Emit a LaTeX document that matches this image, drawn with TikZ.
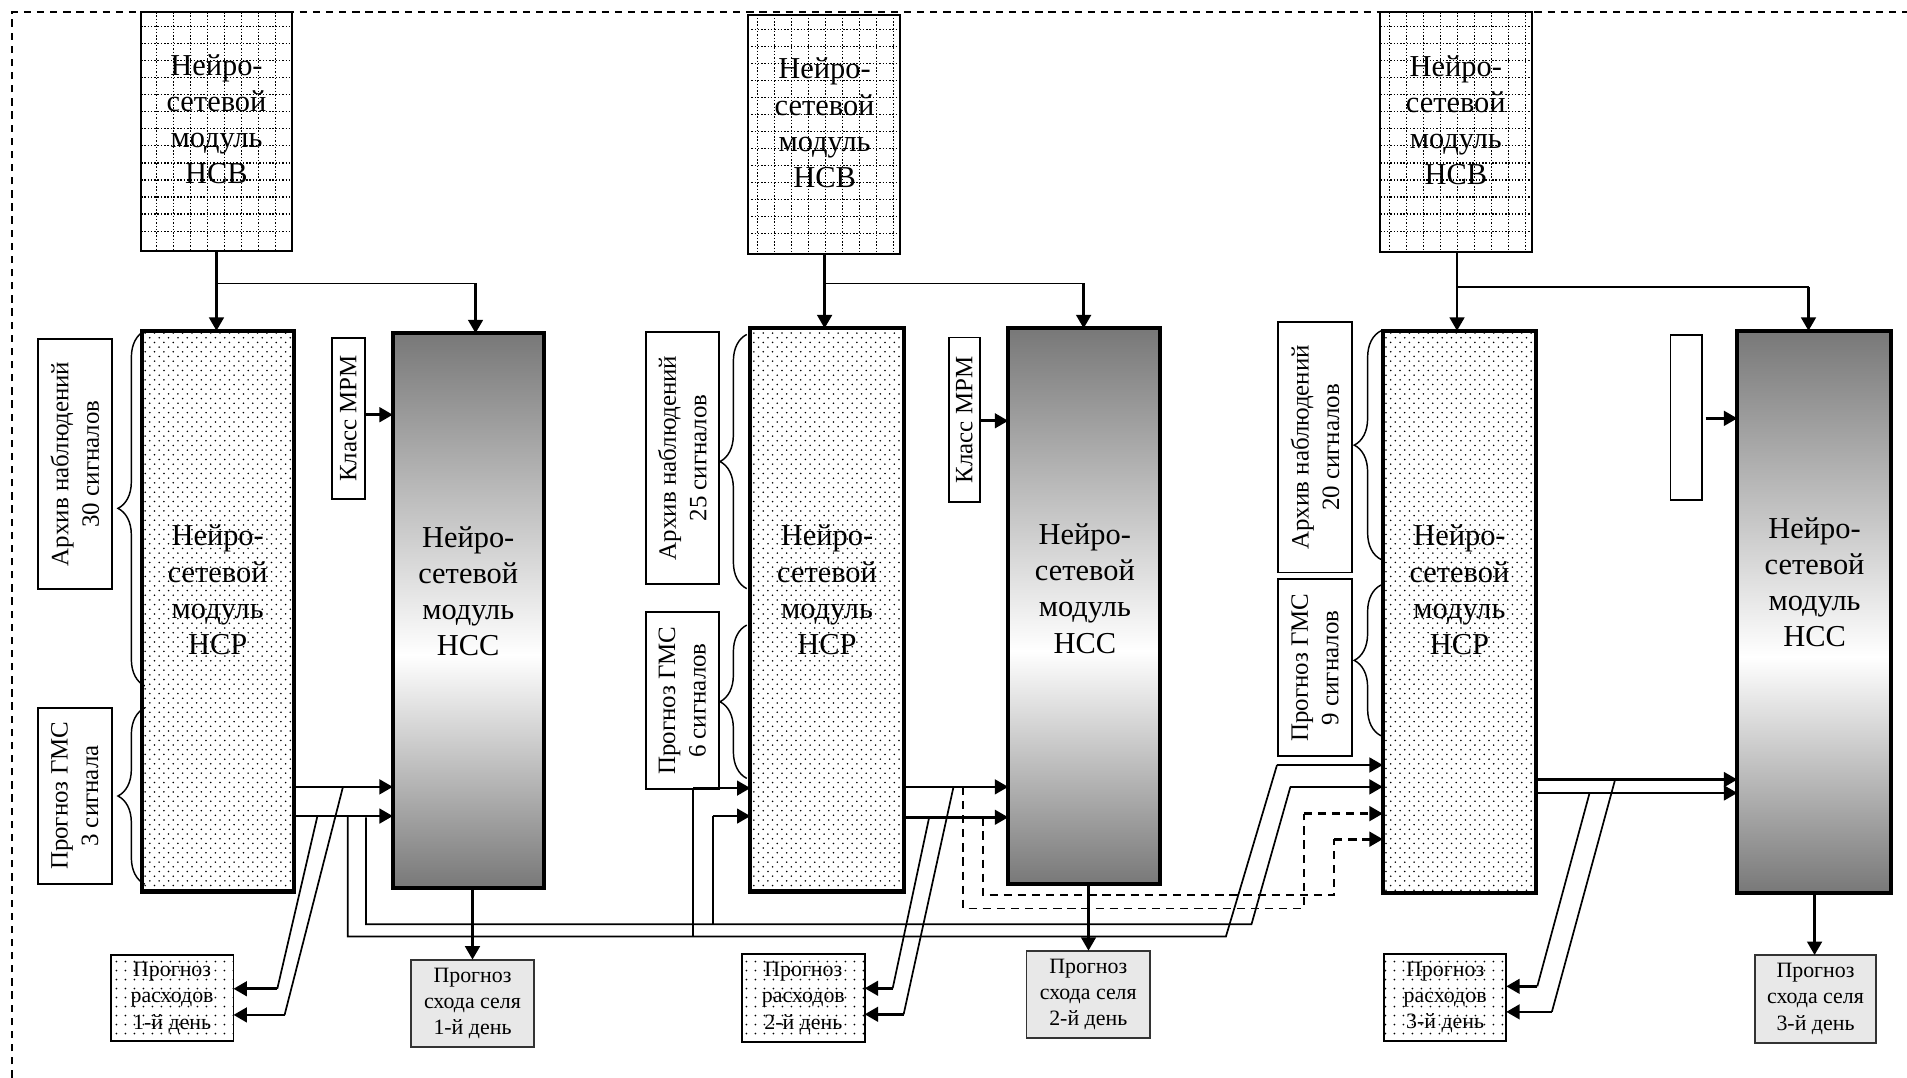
\documentclass[tikz,border=0pt]{standalone}
\usepackage{fontspec}
\setmainfont{Liberation Serif}
\usetikzlibrary{arrows.meta,patterns,decorations.pathreplacing,calc}

\definecolor{nssdark}{gray}{0.47}
\definecolor{selfill}{gray}{0.91}

\pgfdeclarepatternformonly{nsrdots}{\pgfqpoint{-0.4pt}{-0.4pt}}{\pgfqpoint{3.45pt}{3.45pt}}{\pgfqpoint{3.85pt}{3.85pt}}{%
  \pgfpathcircle{\pgfqpoint{0pt}{0pt}}{0.36pt}%
  \pgfpathcircle{\pgfqpoint{1.925pt}{1.925pt}}{0.36pt}%
  \pgfusepath{fill}}
\pgfdeclarepatternformonly{rasdots}{\pgfqpoint{-0.6pt}{-0.6pt}}{\pgfqpoint{3.1pt}{3.1pt}}{\pgfqpoint{3.7pt}{3.7pt}}{%
  \pgfpathcircle{\pgfqpoint{0pt}{0pt}}{0.4pt}\pgfusepath{fill}}
\pgfdeclareverticalshading{nssgrad}{100bp}{color(0bp)=(nssdark); color(25bp)=(nssdark); color(46bp)=(white); color(75bp)=(nssdark); color(100bp)=(nssdark)}

\newcommand\fBig{\fontsize{12.5}{14.85}\selectfont}
\newcommand\fRot{\fontsize{10.25}{12.5}\selectfont}
\newcommand\fSmall{\fontsize{9}{10.8}\selectfont}

\tikzset{
  frame/.style={line width=0.6pt, dash pattern=on 3pt off 2.4pt},
  thinbox/.style={draw, line width=0.75pt, inner sep=0pt, outer sep=0pt, fill=white},
  rotbox/.style={thinbox, rotate=90, align=center, font=\fRot},
  gridl/.style={line width=0.45pt, dash pattern=on 0.6pt off 0.75pt},
  nsvbox/.style={draw, line width=0.8pt, inner sep=0pt, outer sep=0pt, path picture={
     \foreach \k in {0,...,9} {\draw[gridl] ([xshift=#1+\k*7pt]path picture bounding box.north west) -- ([xshift=#1+\k*7pt]path picture bounding box.south west);}
     \foreach \k in {0,...,12} {\draw[gridl] ([yshift=-6pt-\k*7pt]path picture bounding box.north west) -- ([yshift=-6pt-\k*7pt]path picture bounding box.north east);}
  }},
  nsrbox/.style={draw, line width=1.7pt, inner sep=0pt, outer sep=0pt, pattern=nsrdots},
  nssbox/.style={draw, line width=1.7pt, inner sep=0pt, outer sep=0pt, shade, shading=nssgrad},
  bigtext/.style={align=center, font=\fBig, inner sep=0pt},
  rasbox/.style={draw, line width=0.8pt, inner sep=0pt, outer sep=0pt, pattern=rasdots, align=center, font=\fSmall},
  selbox/.style={draw=black!80, line width=0.8pt, inner sep=0pt, outer sep=0pt, fill=selfill, align=center, font=\fSmall},
  arr/.style={line width=1.1pt, -{Triangle[length=5.5pt,width=6pt]}},
  thinl/.style={line width=0.7pt},
  dashl/.style={line width=0.7pt, dash pattern=on 3.4pt off 2.4pt},
  darr/.style={arr, dash pattern=on 3.4pt off 2.4pt},
  brc/.style={line width=0.6pt, decorate, decoration={brace, amplitude=11pt}},
}

\begin{document}
\begin{tikzpicture}[x=0.5pt,y=-0.5pt]
\useasboundingbox (0,0) rectangle (1568,886);
\draw[frame] (10,886) -- (10,10) -- (1568,10);

% ---------- NSV boxes ----------
\node[nsvbox=6.3pt, minimum width=62pt, minimum height=98pt] (nsv1) at (178,108) {};
\node[nsvbox=4pt, minimum width=62.5pt, minimum height=98.5pt] (nsv2) at (677.5,110.5) {};
\node[nsvbox=3.65pt, minimum width=62.5pt, minimum height=98.5pt] (nsv3) at (1197.5,108.5) {};
\node[bigtext] (nsv1t) at (178,98) {Нейро-\\сетевой\\модуль\\НСВ};
\node[bigtext] (nsv2t) at (678,101) {Нейро-\\сетевой\\модуль\\НСВ};
\node[bigtext] (nsv3t) at (1197,99) {Нейро-\\сетевой\\модуль\\НСВ};

% ---------- NSR / NSS boxes ----------
\node[nsrbox, minimum width=62.5pt, minimum height=230.5pt] (nsr1) at (179.5,502.5) {};
\node[nsrbox, minimum width=63pt, minimum height=231.5pt] (nsr2) at (680,501.5) {};
\node[nsrbox, minimum width=63pt, minimum height=231pt] (nsr3) at (1200,503) {};
\node[nssbox, minimum width=62pt, minimum height=228pt] (nss1) at (385,502) {};
\node[nssbox, minimum width=62.5pt, minimum height=228.5pt] (nss2) at (891.5,498.5) {};
\node[nssbox, minimum width=63pt, minimum height=231pt] (nss3) at (1491.5,503) {};
\node[bigtext] (nsr1t) at (179,485) {Нейро-\\сетевой\\модуль\\НСР};
\node[bigtext] (nsr2t) at (680,485) {Нейро-\\сетевой\\модуль\\НСР};
\node[bigtext] (nsr3t) at (1200,485) {Нейро-\\сетевой\\модуль\\НСР};
\node[bigtext] (nss1t) at (385,486) {Нейро-\\сетевой\\модуль\\НСС};
\node[bigtext] (nss2t) at (892,484) {Нейро-\\сетевой\\модуль\\НСС};
\node[bigtext] (nss3t) at (1492,479) {Нейро-\\сетевой\\модуль\\НСС};

% ---------- side text boxes ----------
\node[rotbox, minimum width=102.5pt, minimum height=30.5pt] (arch1) at (61.5,381.5) {Архив наблюдений\\30 сигналов};
\node[rotbox, minimum width=72.5pt, minimum height=30.5pt] (gms1) at (61.5,654.5) {Прогноз ГМС\\3 сигнала};
\node[rotbox, minimum width=66pt, minimum height=13.5pt] (mrm1) at (286.5,344) {Класс МРМ};
\node[rotbox, minimum width=103.5pt, minimum height=30pt] (arch2) at (561,376.5) {Архив наблюдений\\25 сигналов};
\node[rotbox, minimum width=73pt, minimum height=30pt] (gms2) at (561,576) {Прогноз ГМС\\6 сигналов};
\node[rotbox, minimum width=67.75pt, minimum height=13pt] (mrm2) at (793,345.25) {Класс МРМ};
\node[rotbox, minimum width=102.85pt, minimum height=30.25pt] (arch3) at (1081.25,367.85) {Архив наблюдений\\20 сигналов};
\node[rotbox, minimum width=72.7pt, minimum height=30.25pt] (gms3) at (1081.25,549.1) {Прогноз ГМС\\9 сигналов};
\node[rotbox, minimum width=67.85pt, minimum height=13pt] (emp3) at (1386.5,343.45) {};

% ---------- braces ----------
\draw[brc] (119,564) -- (119,272);
\draw[brc] (119,727) -- (119,582);
\draw[brc] (614,484) -- (614,275);
\draw[brc] (614,640) -- (614,514);
\draw[brc] (1135.5,460) -- (1135.5,272);
\draw[brc] (1135.5,605) -- (1135.5,481);

% ---------- output boxes ----------
\node[rasbox, minimum width=50.5pt, minimum height=35.5pt] (ras1) at (141.5,820.5) {Прогноз\\расходов\\1-й день};
\node[selbox, minimum width=50.5pt, minimum height=36pt] (sel1) at (388.5,825) {Прогноз\\схода селя\\1-й день};
\node[rasbox, minimum width=50.5pt, minimum height=36pt] (ras2) at (660.5,820.5) {Прогноз\\расходов\\2-й день};
\node[selbox, minimum width=50.8pt, minimum height=36pt] (sel2) at (894.8,817.7) {Прогноз\\схода селя\\2-й день};
\node[rasbox, minimum width=50.25pt, minimum height=35.65pt] (ras3) at (1188.25,820) {Прогноз\\расходов\\3-й день};
\node[selbox, minimum width=50pt, minimum height=36pt] (sel3) at (1492.75,821.25) {Прогноз\\схода селя\\3-й день};

% ---------- NSV connectors ----------
\draw[arr] (nsv1.south) -- (nsv1.south |- nsr1.north);
\coordinate (j1) at (178,233); \coordinate (j1r) at (391,233);
\draw[thinl] (j1) -- (j1r);
\draw[arr] (j1r) -- (j1r |- nss1.north);

\coordinate (j2t) at (678,209);
\draw[arr] (j2t) -- (j2t |- nsr2.north);
\coordinate (j2) at (678,233); \coordinate (j2r) at (891,233);
\draw[thinl] (j2) -- (j2r);
\draw[arr] (j2r) -- (j2r |- nss2.north);

\coordinate (j3t) at (1198,207);
\draw[arr] (j3t) -- (j3t |- nsr3.north);
\coordinate (j3) at (1198,236); \coordinate (j3r) at (1487,236);
\draw[thinl] (j3) -- (j3r);
\draw[arr] (j3r) -- (j3r |- nss3.north);

% ---------- MRM arrows ----------
\draw[arr] (mrm1.south |- 0,341) -- (nss1.west |- 0,341);
\draw[arr] (mrm2.south |- 0,346) -- (nss2.west |- 0,346);
\draw[arr, shorten <=1.5pt] (emp3.south |- 0,344) -- (nss3.west |- 0,344);

% ---------- NSR -> NSS ----------
\draw[arr] (nsr1.east |- 0,647) -- (nss1.west |- 0,647);
\draw[arr] (nsr1.east |- 0,671) -- (nss1.west |- 0,671);
\draw[arr] (nsr2.east |- 0,647) -- (nss2.west |- 0,647);
\draw[arr] (nsr2.east |- 0,672) -- (nss2.west |- 0,672);
\draw[arr] (nsr3.east |- 0,641) -- (nss3.west |- 0,641);
\draw[arr] (nsr3.east |- 0,652) -- (nss3.west |- 0,652);

% ---------- NSS -> sel ----------
\coordinate (s1) at (388.5,730); \draw[arr] (s1) -- (s1 |- sel1.north);
\coordinate (s2) at (895,727);   \draw[arr] (s2) -- (s2 |- sel2.north);
\coordinate (s3) at (1492,734);  \draw[arr] (s3) -- (s3 |- sel3.north);

% ---------- diagonals to ras boxes ----------
\coordinate (d1a) at (282,647); \coordinate (d1b) at (234,834.5);
\coordinate (d1c) at (261,671); \coordinate (d1d) at (228,813);
\draw[thinl] (d1a) -- (d1b); \draw[arr] (d1b) -- (ras1.east |- d1b);
\draw[thinl] (d1c) -- (d1d); \draw[arr] (d1d) -- (ras1.east |- d1d);

\coordinate (d2a) at (784,647); \coordinate (d2b) at (743,834);
\coordinate (d2c) at (764,672); \coordinate (d2d) at (734,812.6);
\draw[thinl] (d2a) -- (d2b); \draw[arr] (d2b) -- (ras2.east |- d2b);
\draw[thinl] (d2c) -- (d2d); \draw[arr] (d2d) -- (ras2.east |- d2d);

\coordinate (d3a) at (1328,641); \coordinate (d3b) at (1276,832);
\coordinate (d3c) at (1307,652); \coordinate (d3d) at (1264,811);
\draw[thinl] (d3a) -- (d3b); \draw[arr] (d3b) -- (ras3.east |- d3b);
\draw[thinl] (d3c) -- (d3d); \draw[arr] (d3d) -- (ras3.east |- d3d);

% ---------- long feed lines from column 1 ----------
\coordinate (l1a) at (286,671); \coordinate (l1b) at (286,770);
\coordinate (l1c) at (1008,770); \coordinate (l1d) at (1050,629);
\draw[thinl] (l1a) -- (l1b) -- (l1c) -- (l1d);
\draw[arr] (l1d) -- (nsr3.west |- l1d);
\coordinate (b1) at (570,770); \coordinate (b2) at (570,648);
\draw[thinl] (b1) -- (b2);
\draw[arr] (b2) -- (nsr2.west |- b2);

\coordinate (l2a) at (301,672); \coordinate (l2b) at (301,760);
\coordinate (l2c) at (1029,760); \coordinate (l2d) at (1061,647);
\draw[thinl] (l2a) -- (l2b) -- (l2c) -- (l2d);
\draw[arr] (l2d) -- (nsr3.west |- l2d);
\coordinate (b3) at (586,760); \coordinate (b4) at (586,671);
\draw[thinl] (b3) -- (b4);
\draw[arr] (b4) -- (nsr2.west |- b4);

% ---------- dashed feed lines from column 2 ----------
\coordinate (e1) at (792,647); \coordinate (e2) at (792,747);
\coordinate (e3) at (1072,747); \coordinate (e4) at (1072,669);
\draw[dashl] (e1) -- (e2) -- (e3) -- (e4);
\draw[darr] (e4) -- (nsr3.west |- e4);
\coordinate (f1) at (808,672); \coordinate (f2) at (808,736);
\coordinate (f3) at (1097,736); \coordinate (f4) at (1097,690);
\draw[dashl] (f1) -- (f2) -- (f3) -- (f4);
\draw[darr] (f4) -- (nsr3.west |- f4);
\end{tikzpicture}
\end{document}
